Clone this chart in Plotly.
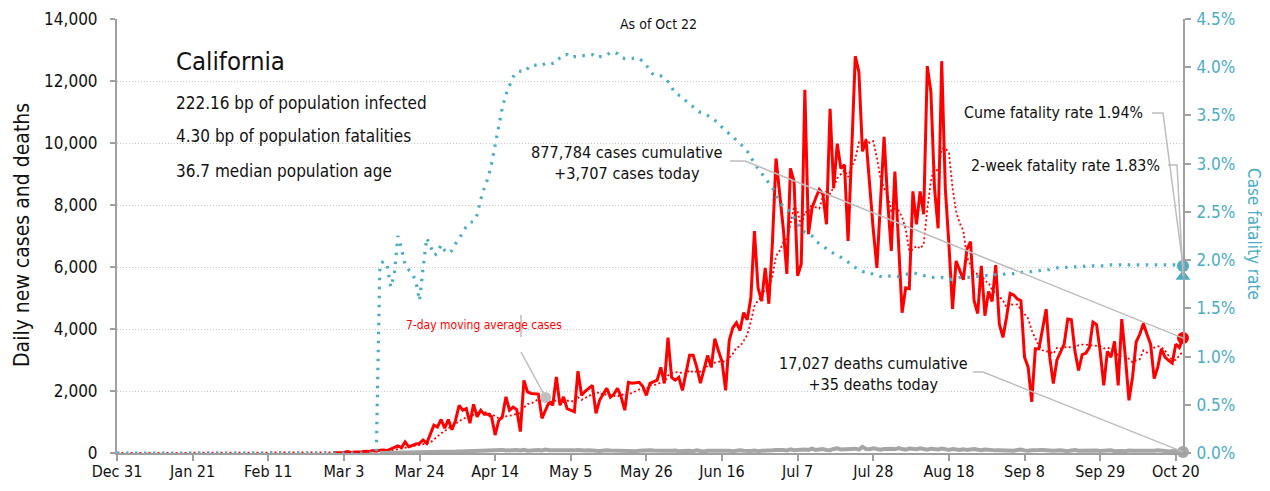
import pandas as pd
import plotly.graph_objects as go

# ---------------- data ----------------
dates = pd.date_range("2019-12-31", "2020-10-22", freq="D")

cases_dec31 = [0]
cases_jan = [0, 0, 0, 0, 0, 0, 0, 0, 0, 0, 0, 0, 0, 0, 0, 0, 0, 0, 0, 0, 0, 0, 0, 0, 0, 0, 0, 0, 0, 0, 0]
cases_feb = [0, 0, 0, 0, 0, 0, 0, 0, 0, 0, 0, 0, 0, 0, 0, 0, 0, 0, 0, 0, 0, 0, 0, 0, 0, 0, 0, 0, 5]
cases_mar = [10, 20, 15, 50, 20, 30, 25, 40, 60, 50, 80, 60, 90, 100, 80, 130, 180, 230, 175, 360,
             200, 250, 290, 310, 420, 310, 580, 900, 840, 1080, 800]
cases_apr = [1080, 750, 1050, 1540, 1380, 1430, 960, 1570, 1170, 1380, 1250, 1250, 1170, 580, 1050,
             1170, 1810, 1380, 1480, 1400, 690, 2340, 1970, 1920, 1920, 1900, 1120, 1380, 1650, 1540]
cases_may = [2450, 1540, 1810, 1430, 1380, 1330, 2640, 1860, 1990, 2100, 2180, 1280, 1700, 1900, 2090,
             1800, 1900, 2090, 1800, 1380, 2280, 2250, 2260, 2280, 2150, 1860, 2250, 2300, 2350, 2760, 2250]
cases_jun = [3720, 2440, 2350, 2440, 2020, 2600, 3150, 3150, 2760, 2250, 2660, 3150, 2760, 3690, 3300,
             2950, 2020, 3630, 4040, 4200, 3950, 4530, 4300, 5000, 7160, 5330, 4900, 5970, 4815, 6800]
cases_jul = [9500, 8346, 7250, 5778, 9180, 8760, 5714, 6100, 11716, 7060, 7900, 8220, 8500, 8350, 7380,
             11100, 8540, 9980, 9180, 9300, 6840, 9730, 12800, 12300, 9730, 10100, 8540, 7200, 5970, 8120, 10200]
cases_aug = [8120, 6516, 9080, 6740, 4526, 5330, 5300, 8440, 7380, 8440, 7700, 12480, 11650, 8540, 7250,
             12640, 8540, 6740, 4650, 6195, 5870, 5590, 6570, 6820, 4910, 4500, 6035, 4430, 5210, 4890, 6060]
cases_sep = [4160, 3730, 4370, 5150, 5100, 4970, 4910, 3090, 2770, 1650, 3360, 3360, 4050, 4640, 3090,
             2240, 3000, 3250, 3510, 4320, 4300, 3280, 2660, 3170, 3220, 3400, 4220, 4140, 3280, 2180]
cases_oct = [3280, 3090, 3600, 2180, 4320, 3090, 1700, 2460, 3580, 3830, 4180, 3830, 3510, 2400, 2770,
             3360, 3090, 2990, 2900, 3510, 3400, 3707]

deaths_dec31 = [0]
deaths_jan = [0, 0, 0, 0, 0, 0, 0, 0, 0, 0, 0, 0, 0, 0, 0, 0, 0, 0, 0, 0, 0, 0, 0, 0, 0, 0, 0, 0, 0, 0, 0]
deaths_feb = [0, 0, 0, 0, 0, 0, 0, 0, 0, 0, 0, 0, 0, 0, 0, 0, 0, 0, 0, 0, 0, 0, 0, 0, 0, 0, 0, 0, 0]
deaths_mar = [0, 0, 0, 1, 0, 0, 1, 0, 1, 1, 0, 1, 1, 2, 1, 3, 2, 4, 3, 5, 4, 6, 10, 12, 10, 15, 20, 18,
              25, 22, 30]
deaths_apr = [35, 40, 45, 50, 55, 60, 65, 70, 75, 60, 80, 90, 70, 85, 95, 100, 80, 90, 110, 95, 85, 100,
              75, 90, 105, 95, 80, 110, 90, 85]
deaths_may = [95, 75, 80, 90, 70, 85, 100, 75, 80, 90, 95, 70, 65, 85, 90, 80, 75, 95, 85, 70, 80, 65, 60,
              75, 85, 70, 90, 80, 65, 70, 75]
deaths_jun = [60, 70, 80, 55, 65, 75, 70, 60, 85, 65, 50, 70, 75, 60, 55, 80, 65, 70, 60, 75, 85, 70, 55,
              65, 80, 60, 75, 70, 85, 90]
deaths_jul = [100, 110, 95, 80, 120, 90, 105, 130, 115, 100, 140, 95, 110, 125, 100, 90, 130, 150, 115,
              120, 135, 160, 140, 110, 200, 130, 120, 150, 140, 105, 130]
deaths_aug = [150, 140, 120, 160, 130, 110, 145, 135, 125, 150, 120, 105, 140, 130, 115, 145, 125, 100,
              130, 110, 95, 120, 100, 115, 130, 105, 90, 110, 95, 100, 85]
deaths_sep = [90, 80, 100, 85, 75, 95, 110, 85, 70, 90, 80, 95, 100, 75, 80, 70, 85, 90, 75, 60, 80, 95,
              70, 75, 85, 60, 70, 80, 65, 75]
deaths_oct = [70, 85, 60, 75, 65, 55, 80, 70, 65, 90, 60, 75, 55, 70, 85, 60, 65, 50, 75, 70, 60, 35]

# cumulative case fatality rate, percent
cfr_dec31 = [0]
cfr_jan = [0, 0, 0, 0, 0, 0, 0, 0, 0, 0, 0, 0, 0, 0, 0, 0, 0, 0, 0, 0, 0, 0, 0, 0, 0, 0, 0, 0, 0, 0, 0]
cfr_feb = [0, 0, 0, 0, 0, 0, 0, 0, 0, 0, 0, 0, 0, 0, 0, 0, 0, 0, 0, 0, 0, 0, 0, 0, 0, 0, 0, 0, 0]
cfr_mar = [0, 0, 0, 0, 0, 0, 0, 0, 0, 0, 0, 0, 1.95, 1.99, 1.95, 1.72, 1.85, 2.25, 2.12, 1.95, 1.90,
           1.86, 1.78, 1.58, 1.92, 2.23, 2.15, 2.05, 2.07, 2.16, 2.10]
cfr_apr = [2.07, 2.10, 2.17, 2.22, 2.28, 2.35, 2.39, 2.40, 2.47, 2.63, 2.75, 2.85, 3.00, 3.20, 3.40,
           3.58, 3.72, 3.82, 3.90, 3.95, 3.96, 3.95, 3.99, 4.02, 4.02, 4.03, 4.02, 4.04, 4.03, 4.04]
cfr_may = [4.05, 4.10, 4.13, 4.13, 4.10, 4.11, 4.11, 4.12, 4.12, 4.13, 4.13, 4.10, 4.11, 4.11, 4.13,
           4.15, 4.16, 4.14, 4.10, 4.09, 4.09, 4.09, 4.10, 4.09, 4.06, 4.02, 3.96, 3.92, 3.91, 3.91, 3.89]
cfr_jun = [3.85, 3.79, 3.73, 3.71, 3.69, 3.65, 3.62, 3.59, 3.55, 3.53, 3.52, 3.50, 3.48, 3.45, 3.41,
           3.37, 3.34, 3.31, 3.28, 3.24, 3.21, 3.17, 3.13, 3.07, 3.00, 2.95, 2.90, 2.86, 2.80, 2.75]
cfr_jul = [2.67, 2.60, 2.56, 2.53, 2.50, 2.44, 2.37, 2.31, 2.29, 2.27, 2.25, 2.20, 2.17, 2.15, 2.12,
           2.09, 2.07, 2.05, 2.03, 2.00, 1.98, 1.95, 1.92, 1.90, 1.88, 1.88, 1.87, 1.85, 1.84, 1.83, 1.83]
cfr_aug = [1.83, 1.84, 1.84, 1.83, 1.84, 1.85, 1.86, 1.87, 1.86, 1.85, 1.84, 1.83, 1.82, 1.82, 1.82,
           1.82, 1.81, 1.80, 1.80, 1.81, 1.82, 1.82, 1.82, 1.82, 1.83, 1.83, 1.83, 1.84, 1.84, 1.84, 1.85]
cfr_sep = [1.85, 1.85, 1.86, 1.86, 1.86, 1.87, 1.87, 1.88, 1.88, 1.88, 1.89, 1.89, 1.90, 1.90, 1.90,
           1.91, 1.92, 1.92, 1.92, 1.93, 1.93, 1.93, 1.93, 1.93, 1.94, 1.94, 1.94, 1.94, 1.94, 1.94]
cfr_oct = [1.95, 1.95, 1.95, 1.95, 1.95, 1.95, 1.95, 1.95, 1.95, 1.95, 1.95, 1.95, 1.95, 1.95, 1.95,
           1.95, 1.95, 1.95, 1.95, 1.95, 1.94, 1.94]

two_week_cfr = 1.83  # percent
ma_label_day = "2020-04-28"
cases_line_start = "2020-02-29"
deaths_line_start = "2020-03-13"

tick_dates = ["2019-12-31", "2020-01-21", "2020-02-11", "2020-03-03", "2020-03-24", "2020-04-14",
              "2020-05-05", "2020-05-26", "2020-06-16", "2020-07-07", "2020-07-28", "2020-08-18",
              "2020-09-08", "2020-09-29", "2020-10-20"]
tick_labels = ["Dec 31", "Jan 21", "Feb 11", "Mar 3", "Mar 24", "Apr 14", "May 5", "May 26", "Jun 16",
               "Jul 7", "Jul 28", "Aug 18", "Sep 8", "Sep 29", "Oct 20"]

cases = (cases_dec31 + cases_jan + cases_feb + cases_mar + cases_apr + cases_may + cases_jun + cases_jul
         + cases_aug + cases_sep + cases_oct)
deaths = (deaths_dec31 + deaths_jan + deaths_feb + deaths_mar + deaths_apr + deaths_may + deaths_jun
          + deaths_jul + deaths_aug + deaths_sep + deaths_oct)
cfr = [v / 100 for v in (cfr_dec31 + cfr_jan + cfr_feb + cfr_mar + cfr_apr + cfr_may + cfr_jun + cfr_jul
                         + cfr_aug + cfr_sep + cfr_oct)]
assert len(cases) == len(dates) == len(deaths) == len(cfr)

s_cases = pd.Series(cases, index=dates)
s_deaths = pd.Series(deaths, index=dates)
ma7 = s_cases.rolling(7, min_periods=1).mean()

# ---------------- style / layout geometry ----------------
FONT = "DejaVu Sans Condensed, Liberation Sans Narrow, Roboto, sans-serif"
RED = "#ff0000"
TEAL = "#4bacc6"
GRAY = "#a6a6a6"
AX = "#a0a0a0"
Y1MAX = 14000
Y2MAX = 0.045
n_days = (dates[-1] - dates[0]).days

# the page adds an 8px body margin; these are on-screen plot-area edges
PAGE_OFF = 8
PLOT_L, PLOT_R, PLOT_T, PLOT_B = 117, 1183, 19, 453
W, H = 1270, 491
PLOT_W = PLOT_R - PLOT_L
PLOT_H = PLOT_B - PLOT_T


def px(x):  # on-screen x -> paper
    return (x - PLOT_L) / PLOT_W


def py(y):  # on-screen y -> paper
    return (PLOT_B - y) / PLOT_H


fig = go.Figure()

fig.add_trace(go.Scatter(x=dates, y=cfr, yaxis="y2", mode="lines",
                         line=dict(color=TEAL, width=3.2, dash="2.5px,6.5px"), hoverinfo="skip"))
sc = s_cases[cases_line_start:]
fig.add_trace(go.Scatter(x=sc.index, y=sc.values, mode="lines", line=dict(color=RED, width=3)))
fig.add_trace(go.Scatter(x=dates, y=ma7, mode="lines", line=dict(color=RED, width=1.8, dash="2px,2.5px")))
sd = s_deaths[deaths_line_start:]
fig.add_trace(go.Scatter(x=sd.index, y=sd.values, mode="lines", line=dict(color=GRAY, width=4)))

# end markers
fig.add_trace(go.Scatter(x=[dates[-1]], y=[cases[-1]], mode="markers", cliponaxis=False,
                         marker=dict(color=RED, size=12)))
fig.add_trace(go.Scatter(x=[dates[-1]], y=[deaths[-1]], mode="markers", cliponaxis=False,
                         marker=dict(color=GRAY, size=12)))
fig.add_trace(go.Scatter(x=[pd.Timestamp(ma_label_day)], y=[ma7[ma_label_day]], mode="markers",
                         cliponaxis=False, marker=dict(color="#c0c0c0", size=11)))
fig.add_trace(go.Scatter(x=[dates[-1]], y=[two_week_cfr / 100], yaxis="y2", mode="markers",
                         cliponaxis=False, marker=dict(color=TEAL, size=13, symbol="triangle-up")))
fig.add_trace(go.Scatter(x=[dates[-1]], y=[cfr[-1]], yaxis="y2", mode="markers", cliponaxis=False,
                         marker=dict(color=TEAL, size=12)))

# ---------------- annotations ----------------
def txt(text, x, y, size=17, xanchor="left", color="#111111", align="left"):
    return dict(text=text, x=px(x), y=py(y), xref="paper", yref="paper", showarrow=False, xanchor=xanchor,
                yanchor="middle", align=align, font=dict(family=FONT, size=size, color=color))

annotations = [
    txt("California", 174, 61, size=25.5),
    txt("222.16 bp of population infected", 174, 103),
    txt("4.30 bp of population fatalities", 174, 136),
    txt("36.7 median population age", 174, 171),
    txt("As of Oct 22", 658, 24, size=14, xanchor="center"),
    txt("877,784 cases cumulative<br>+3,707 cases today", 627, 162.5, size=16.2, xanchor="center",
        align="center"),
    txt("17,027 deaths cumulative<br>+35 deaths today", 873, 374, size=16, xanchor="center",
        align="center"),
    txt("Cume fatality rate 1.94%", 1145, 113, size=15.8, xanchor="right"),
    txt("2-week fatality rate 1.83%", 1162, 165, size=15.8, xanchor="right"),
    txt("7-day moving average cases", 484, 325, size=12, xanchor="center", color=RED),
    dict(text="Daily new cases and deaths", x=px(22), y=py(235), xref="paper", yref="paper",
         showarrow=False, textangle=-90, xanchor="center", yanchor="middle",
         font=dict(family=FONT, size=21, color="#111111")),
    dict(text="Case fatality rate", x=px(1254), y=py(234), xref="paper", yref="paper",
         showarrow=False, textangle=90, xanchor="center", yanchor="middle",
         font=dict(family=FONT, size=17, color=TEAL)),
]

# ---------------- leader lines ----------------
ma_x = (pd.Timestamp(ma_label_day) - dates[0]).days / n_days
ma_y = ma7[ma_label_day] / Y1MAX
leaders = [
    [(px(730), py(161)), (px(745), py(161)), (1.0, cases[-1] / Y1MAX)],
    [(px(973), py(372)), (px(983), py(372)), (1.0, deaths[-1] / Y1MAX)],
    [(px(1152), py(113)), (px(1163), py(113)), (1.0, cfr[-1] / Y2MAX)],
    [(px(1168), py(165)), (px(1177), py(165)), (1.0, two_week_cfr / 100 / Y2MAX)],
    [(px(521), py(315)), (px(521), py(337))],
    [(px(521), py(352)), (ma_x, ma_y)],
]
shapes = []
for pts in leaders:
    path = "M " + " L ".join(f"{a:.5f},{b:.5f}" for a, b in pts)
    shapes.append(dict(type="path", path=path, xref="paper", yref="paper",
                       line=dict(color="#bdbdbd", width=1.5), layer="above"))

fig.update_layout(
    width=W, height=H, autosize=False,
    margin=dict(l=PLOT_L - PAGE_OFF, r=W - PLOT_R + PAGE_OFF, t=PLOT_T - PAGE_OFF,
                b=H - PLOT_B + PAGE_OFF, autoexpand=False),
    paper_bgcolor="white", plot_bgcolor="white",
    showlegend=False,
    font=dict(family=FONT, size=17, color="#111111"),
    annotations=annotations, shapes=shapes,
    xaxis=dict(type="date", range=[dates[0], dates[-1]], tickvals=tick_dates, ticktext=tick_labels,
               automargin=False, showgrid=False, zeroline=False, showline=True, linecolor=AX, linewidth=2,
               ticks="outside", ticklen=6, tickcolor=AX, tickwidth=1.5, ticklabelstandoff=-3,
               ticklabeloverflow="allow",
               tickfont=dict(family=FONT, size=16, color="#111111")),
    yaxis=dict(range=[0, Y1MAX], dtick=2000, tickformat=",", showgrid=True, gridcolor="#c8c8c8",
               automargin=False, griddash="1px,2px", gridwidth=1, zeroline=False, showline=True,
               linecolor=AX, linewidth=2, ticks="outside", ticklen=5, tickcolor=AX, tickwidth=1.5,
               ticklabelstandoff=9, ticklabeloverflow="allow",
               tickfont=dict(family=FONT, size=17, color="#111111")),
    yaxis2=dict(range=[0, Y2MAX], dtick=0.005, tickformat=".1%", overlaying="y", side="right",
                automargin=False, showgrid=False, zeroline=False, showline=True, linecolor=AX, linewidth=2,
                ticks="outside", ticklen=6, tickcolor=AX, tickwidth=1.5, ticklabelstandoff=2,
                ticklabeloverflow="allow",
                tickfont=dict(family=FONT, size=17, color=TEAL)),
)

fig.write_html("out.html")
